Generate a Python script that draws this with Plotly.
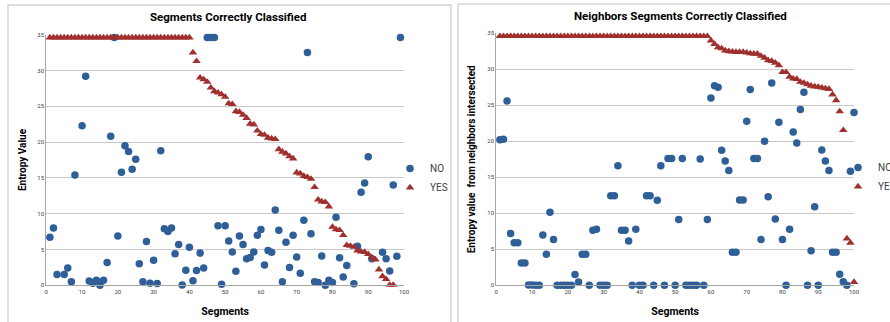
import plotly.graph_objects as go

segments = list(range(1, 101))

left_no = [6.7, 8.0, 1.5, None, 1.5, 2.4, 0.5, 15.4, None, 22.3,
           29.2, 0.6, 0.3, 0.7, 0.0, 0.7, 3.2, 20.8, 34.6, 6.9,
           15.8, 19.5, 18.7, 16.2, 17.6, 3.0, 0.5, 6.1, 0.3, 3.5,
           0.25, 18.8, 7.9, 7.5, 8.0, 4.4, 5.7, 0.05, 2.1, 5.3,
           0.65, 2.05, 4.5, 2.4, 34.6, 34.6, 34.6, 8.3, 0.15, 8.3,
           6.2, 4.65, 1.95, 6.9, 5.7, 3.7, 3.9, 4.65, 7.0, 7.8,
           2.85, 4.85, 4.6, 10.5, 7.7, 0.5, 6.0, 2.5, 7.0, 3.95,
           1.7, 9.1, 32.5, 7.2, 0.5, 0.4, 4.1, 0.0, 0.7, 0.4,
           9.5, 3.85, 1.15, 2.75, None, 0.2, 5.45, 13.0, 14.3, 17.95,
           3.7, None, None, 4.6, 3.7, 2.0, 14.0, 4.05, 34.6, None]

left_yes = [34.6, 34.6, 34.6, 34.6, 34.6, 34.6, 34.6, 34.6, 34.6, 34.6,
            34.6, 34.6, 34.6, 34.6, 34.6, 34.6, 34.6, 34.6, 34.6, 34.6,
            34.6, 34.6, 34.6, 34.6, 34.6, 34.6, 34.6, 34.6, 34.6, 34.6,
            34.6, 34.6, 34.6, 34.6, 34.6, 34.6, 34.6, 34.6, 34.6, 34.6,
            32.5, 31.3, 29.0, 28.75, 28.4, 27.6, 27.1, 26.9, 26.65, 26.3,
            25.4, 25.3, 24.3, 24.2, 23.8, 23.35, 22.55, 22.45, 21.6, 21.1,
            21.0, 20.6, 20.5, 20.4, 19.0, 18.65, 18.4, 18.0, 17.7, 15.75,
            15.6, 15.25, 15.1, 14.85, 13.7, 11.95, 11.7, 11.6, 11.0, 8.15,
            7.8, 7.7, 7.0, 5.6, 5.5, 5.35, 4.85, 4.7, 4.65, 4.35,
            3.9, 3.6, 2.2, 1.25, 0.85, 0.05, 0.05, None, None, None]

right_no = [20.2, 20.3, 25.6, 7.2, 5.9, 5.9, 3.1, 3.1, 0.05, 0.05,
            0.0, 0.0, 7.0, 4.3, 10.15, 6.35, 0.0, 0.0, 0.0, 0.0,
            0.0, 1.5, 0.45, 4.3, 4.3, 0.0, 7.65, 7.8, 0.0, 0.0,
            0.0, 12.45, 12.45, 16.6, 7.65, 7.65, 6.15, 0.0, 7.8, 0.0,
            0.0, 12.45, 12.45, 0.0, 11.8, 16.6, 0.0, 17.6, 17.6, 0.0,
            9.15, 17.6, 0.0, 0.0, 0.0, 0.0, 17.55, 0.0, 9.15, 26.0,
            27.7, 27.5, 18.75, 17.25, 15.95, 4.6, 4.6, 11.85, 11.85, 22.8,
            27.2, 17.6, 17.6, 6.35, 20.0, 12.3, 28.1, 9.2, 22.65, 6.35,
            0.0, 7.8, 21.3, 19.75, 24.4, 26.8, 0.0, 4.8, 10.9, 0.0,
            18.8, 17.25, 15.95, 4.6, 4.6, 1.55, 0.5, 0.0, 15.85, 24.0]

right_yes = [34.6, 34.6, 34.6, 34.6, 34.6, 34.6, 34.6, 34.6, 34.6, 34.6,
             34.6, 34.6, 34.6, 34.6, 34.6, 34.6, 34.6, 34.6, 34.6, 34.6,
             34.6, 34.6, 34.6, 34.6, 34.6, 34.6, 34.6, 34.6, 34.6, 34.6,
             34.6, 34.6, 34.6, 34.6, 34.6, 34.6, 34.6, 34.6, 34.6, 34.6,
             34.6, 34.6, 34.6, 34.6, 34.6, 34.6, 34.6, 34.6, 34.6, 34.6,
             34.6, 34.6, 34.6, 34.6, 34.6, 34.6, 34.6, 34.6, 34.6, 34.0,
             33.5, 33.05, 32.9, 32.6, 32.5, 32.45, 32.4, 32.4, 32.4, 32.3,
             32.2, 32.15, 32.15, 31.85, 31.6, 31.25, 31.15, 30.9, 30.55, 29.6,
             29.6, 28.95, 28.7, 28.65, 28.25, 28.1, 27.9, 27.7, 27.6, 27.55,
             27.45, 27.35, 27.25, 26.5, 25.7, 24.15, 21.55, 6.5, 5.9, 0.45]

x_ticks = [0, 10, 20, 30, 40, 50, 60, 70, 80, 90, 100]
y_ticks = [0, 5, 10, 15, 20, 25, 30, 35]

BLUE = "#2F5F98"
RED = "#A0302D"
W, H = 890, 322
FONT = "Roboto, Open Sans, sans-serif"

fig = go.Figure()

def add_pair(no_vals, yes_vals, xa, ya, legend):
    fig.add_trace(go.Scatter(x=segments, y=no_vals, mode="markers", name="NO",
                             marker=dict(symbol="circle", size=7.5, color=BLUE),
                             xaxis=xa, yaxis=ya, legend=legend, cliponaxis=False))
    fig.add_trace(go.Scatter(x=segments, y=yes_vals, mode="markers", name="YES",
                             marker=dict(symbol="triangle-up", size=7.5, color=RED),
                             xaxis=xa, yaxis=ya, legend=legend, cliponaxis=False))

add_pair(left_no, left_yes, "x", "y", "legend")
add_pair(right_no, right_yes, "x2", "y2", "legend2")

def px_x(p):
    return p / W

def px_y(p):
    return 1 - p / H

axis_common = dict(showline=True, linecolor="#A6A6A6", linewidth=1, zeroline=False,
                   ticks="", tickfont=dict(size=6, color="#404040", family=FONT))

BORDER = dict(color="#BFBFBF", width=1)

fig.update_layout(
    width=W, height=H,
    margin=dict(l=0, r=0, t=0, b=0, autoexpand=False),
    paper_bgcolor="white", plot_bgcolor="white",
    font=dict(family=FONT, color="#000000"),
    xaxis=dict(domain=[px_x(46.3), px_x(404)], range=[0, 100], tickvals=x_ticks,
               showgrid=False, anchor="y",
               title=dict(text="<b>Segments</b>", font=dict(size=10.5, family=FONT), standoff=14),
               **axis_common),
    yaxis=dict(domain=[px_y(285.3), px_y(34.7)], range=[0, 35], tickvals=y_ticks,
               showgrid=True, gridcolor="#C8C8C8", gridwidth=1, anchor="x",
               title=dict(text="<b>Entropy Value</b>", font=dict(size=10, family=FONT), standoff=8),
               **axis_common),
    xaxis2=dict(domain=[px_x(496.3), px_x(854)], range=[0, 100], tickvals=x_ticks,
                showgrid=False, anchor="y2",
                title=dict(text="<b>Segments</b>", font=dict(size=10.5, family=FONT), standoff=14),
                **axis_common),
    yaxis2=dict(domain=[px_y(285.3), px_y(33.3)], range=[0, 35], tickvals=y_ticks,
                showgrid=True, gridcolor="#C8C8C8", gridwidth=1, anchor="x2",
                title=dict(text="<b>Entropy value  from neighbors intersected</b>",
                           font=dict(size=10, family=FONT), standoff=9),
                **axis_common),
    legend=dict(x=px_x(390), y=px_y(154), xanchor="left", yanchor="top",
                bgcolor="rgba(0,0,0,0)", font=dict(size=10, family=FONT, color="#404040"),
                itemwidth=30, tracegroupgap=0),
    legend2=dict(x=px_x(838), y=px_y(153), xanchor="left", yanchor="top",
                 bgcolor="rgba(0,0,0,0)", font=dict(size=10, family=FONT, color="#404040"),
                 itemwidth=30, tracegroupgap=0),
    annotations=[
        dict(text="<b>Segments Correctly Classified</b>", x=px_x(229), y=px_y(17),
             xref="paper", yref="paper", showarrow=False, xanchor="center", yanchor="middle",
             font=dict(size=11.5, family=FONT, color="#000000")),
        dict(text="<b>Neighbors Segments Correctly Classified</b>", x=px_x(680), y=px_y(16),
             xref="paper", yref="paper", showarrow=False, xanchor="center", yanchor="middle",
             font=dict(size=11.5, family=FONT, color="#000000")),
    ],
    shapes=[
        dict(type="line", xref="paper", yref="paper", x0=px_x(8), x1=px_x(8),
             y0=0, y1=px_y(5), line=BORDER),
        dict(type="line", xref="paper", yref="paper", x0=px_x(8), x1=px_x(451),
             y0=px_y(5), y1=px_y(5), line=BORDER),
        dict(type="line", xref="paper", yref="paper", x0=px_x(451), x1=px_x(451),
             y0=0, y1=px_y(5), line=BORDER),
        dict(type="line", xref="paper", yref="paper", x0=px_x(458), x1=px_x(458),
             y0=0, y1=px_y(4), line=BORDER),
        dict(type="line", xref="paper", yref="paper", x0=px_x(458), x1=1,
             y0=px_y(4), y1=px_y(4), line=BORDER),
    ],
)

post = ("document.documentElement.style.overflow='hidden';"
        "document.body.style.margin='0';document.body.style.overflow='hidden';"
        "document.querySelectorAll('.svg-container').forEach(function(e){e.style.overflow='hidden';});")

fig.write_html("out.html", config={"displayModeBar": False}, post_script=post)
